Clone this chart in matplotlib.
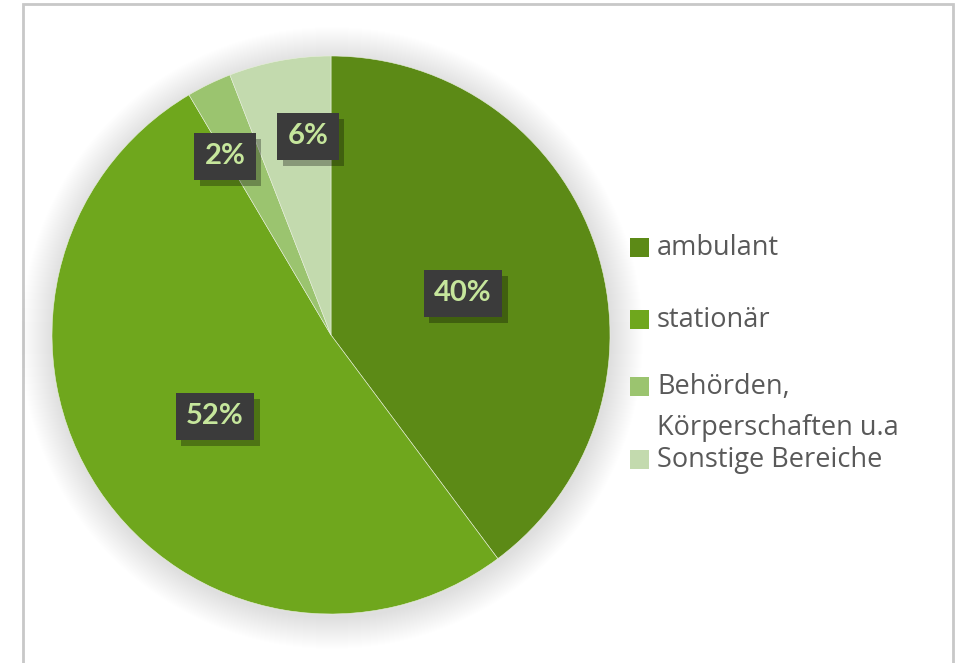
import matplotlib
matplotlib.use("Agg")
import matplotlib.pyplot as plt
from matplotlib.patches import Rectangle, Circle
import matplotlib.patheffects as pe

categories = ["ambulant", "stationär", "Behörden,\nKörperschaften u.a", "Sonstige Bereiche"]
values = [39.8, 51.7, 2.6, 5.9]
pct_labels = ["40%", "52%", "2%", "6%"]
colors = ["#5C8A16", "#6FA71D", "#9BC46F", "#C3DAAE"]

W, H = 964, 663
fig = plt.figure(figsize=(W / 100, H / 100), dpi=100)
ax = fig.add_axes([0, 0, 1, 1])

# frame
ax.add_patch(Rectangle((23, -10), 930, H - 4 + 10, fill=False, edgecolor="#C8C8C8", lw=2))

cx, cy, r = 331, H - 335, 279
# soft shadow glow
for i in range(32):
    rr = r + 32 - i
    ax.add_patch(Circle((cx + 1, cy - 3), rr, color="#000000", alpha=0.0045, lw=0))

wedges, _ = ax.pie(values, colors=colors, startangle=90, counterclock=False,
                   center=(cx, cy), radius=r, frame=True,
                   wedgeprops=dict(linewidth=0.4, edgecolor="#E8F0DC"))
ax.set_xlim(0, W)
ax.set_ylim(0, H)
ax.axis("off")

# percentage labels
label_pos = [(463, 293), (215, 416), (225, 156), (308, 136)]
for (x, y), t in zip(label_pos, pct_labels):
    txt = ax.text(x, H - y, t, ha="center", va="center", fontsize=21, fontweight="bold",
                  family="Lato", color="#C6E69C",
                  bbox=dict(boxstyle="square,pad=0.36", facecolor="#3B3B3B", edgecolor="none"))
    txt.get_bbox_patch().set_path_effects([
        pe.SimplePatchShadow(offset=(4, -5), shadow_rgbFace="black", alpha=0.3),
        pe.Normal()])

# legend
leg_y = [248, 320, 387, 460]
fs = 19.5
for lab, c, y in zip(categories, colors, leg_y):
    ax.add_patch(Rectangle((630, H - y - 9), 19, 19, facecolor=c, edgecolor="none"))
    lines = lab.split("\n")
    for k, line in enumerate(lines):
        ax.text(657, H - y - 41 * k, line, ha="left", va="center", fontsize=fs,
                family="Open Sans", color="#595959")

fig.savefig("out.png", dpi=100)
